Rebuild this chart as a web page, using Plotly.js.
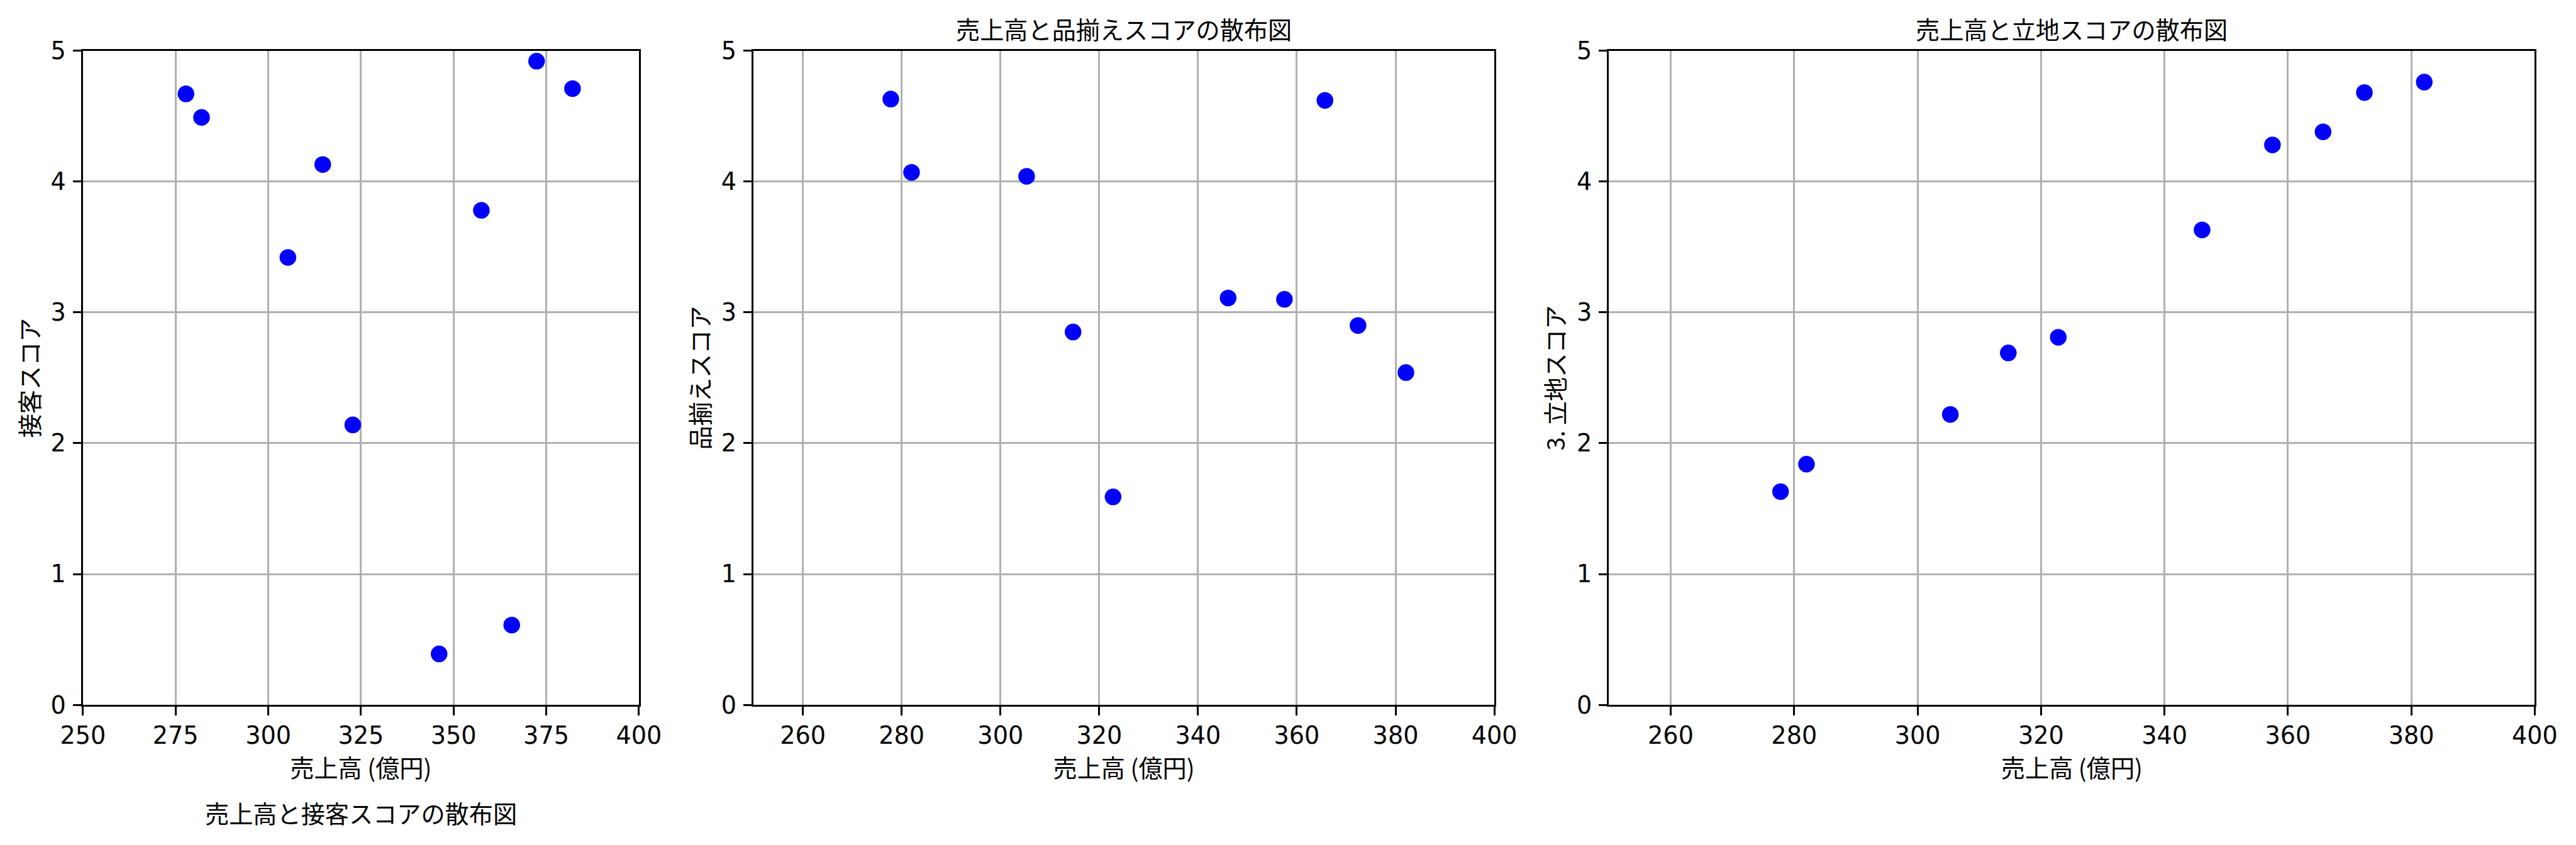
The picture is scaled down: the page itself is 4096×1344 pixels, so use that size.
<!DOCTYPE html>
<html><head><meta charset="utf-8">
<script src="https://cdn.plot.ly/plotly-3.0.1.min.js"></script>
<style>html,body{margin:0;padding:0;background:#fff}</style>
</head><body><div id="chart" style="width:4096px;height:1344px"></div>
<script>
// Data
const sales = [277.8, 282.0, 305.3, 314.7, 322.8, 346.1, 357.5, 365.7, 372.4, 382.1];
const serviceScore = [4.67, 4.49, 3.42, 4.13, 2.14, 0.39, 3.78, 0.61, 4.92, 4.71];
const assortmentScore = [4.63, 4.07, 4.04, 2.85, 1.59, 3.11, 3.10, 4.62, 2.90, 2.54];
const locationScore = [1.63, 1.84, 2.22, 2.69, 2.81, 3.63, 4.28, 4.38, 4.68, 4.76];
const xTicks1 = [250, 275, 300, 325, 350, 375, 400];
const xTicks23 = [260, 280, 300, 320, 340, 360, 380, 400];
const yTicks = [0, 1, 2, 3, 4, 5];
const xLabel = '売上高 (億円)';
const yLabels = ['接客スコア', '品揃えスコア', '3. 立地スコア'];
const titles = ['売上高と接客スコアの散布図', '売上高と品揃えスコアの散布図', '売上高と立地スコアの散布図'];

const S = 0.916;
const W = 4096, H = 1344;
const FS = 41.67 * S;
const tickFont = {family: 'DejaVu Sans', size: FS, color: '#000'};
const cjkFont = {family: 'Noto Sans CJK JP', size: FS, color: '#000'};
const px = v => v * S;
const xDomains = [[px(144) / W, px(1109) / W], [px(1308) / W, px(2594) / W], [px(2793) / W, px(4400) / W]];
const yDomain = [1 - px(1224) / H, 1 - px(88) / H];

const ys = [serviceScore, assortmentScore, locationScore];
const traces = ys.map((y, i) => ({
  type: 'scatter', mode: 'markers', x: sales, y: y,
  xaxis: 'x' + (i ? i + 1 : ''), yaxis: 'y' + (i ? i + 1 : ''),
  marker: {color: '#0000ff', size: 26.5, line: {width: 0}},
  showlegend: false, hoverinfo: 'x+y'
}));

function xa(i) {
  const ticks = i === 0 ? xTicks1 : xTicks23;
  return {
    domain: xDomains[i], range: [250, 400], anchor: 'y' + (i ? i + 1 : ''),
    tickmode: 'array', tickvals: ticks, ticktext: ticks.map(String),
    ticks: 'outside', ticklen: 14.6 * S, tickwidth: 3.3 * S, tickcolor: '#000',
    ticklabelstandoff: 0,
    showline: true, mirror: true, linecolor: '#000', linewidth: 3.3 * S,
    showgrid: true, gridcolor: '#b0b0b0', gridwidth: 3.3 * S, zeroline: false,
    tickfont: tickFont, fixedrange: true,
    title: {text: xLabel, font: cjkFont, standoff: 12}
  };
}
function ya(i) {
  return {
    domain: yDomain, range: [0, 5], anchor: 'x' + (i ? i + 1 : ''),
    tickmode: 'array', tickvals: yTicks, ticktext: yTicks.map(String),
    ticks: 'outside', ticklen: 14.6 * S, tickwidth: 3.3 * S, tickcolor: '#000',
    ticklabelstandoff: 3,
    showline: true, mirror: true, linecolor: '#000', linewidth: 3.3 * S,
    showgrid: true, gridcolor: '#b0b0b0', gridwidth: 3.3 * S, zeroline: false,
    tickfont: tickFont, fixedrange: true,
    title: {text: yLabels[i], font: cjkFont, standoff: 7}
  };
}

const annotations = [
  {text: titles[0], xref: 'paper', yref: 'paper', x: (xDomains[0][0] + xDomains[0][1]) / 2, y: 1 - px(1411) / H,
   xanchor: 'center', yanchor: 'middle', showarrow: false, font: cjkFont},
  {text: titles[1], xref: 'paper', yref: 'paper', x: (xDomains[1][0] + xDomains[1][1]) / 2, y: 1 - px(50) / H,
   xanchor: 'center', yanchor: 'middle', showarrow: false, font: cjkFont},
  {text: titles[2], xref: 'paper', yref: 'paper', x: (xDomains[2][0] + xDomains[2][1]) / 2, y: 1 - px(50) / H,
   xanchor: 'center', yanchor: 'middle', showarrow: false, font: cjkFont}
];

const layout = {
  width: W, height: H, margin: {l: 0, r: 0, t: 0, b: 0, autoexpand: false},
  paper_bgcolor: '#fff', plot_bgcolor: '#fff',
  xaxis: xa(0), yaxis: ya(0), xaxis2: xa(1), yaxis2: ya(1), xaxis3: xa(2), yaxis3: ya(2),
  annotations: annotations, showlegend: false
};
Plotly.newPlot('chart', traces, layout, {displayModeBar: false, staticPlot: true});
</script></body></html>
